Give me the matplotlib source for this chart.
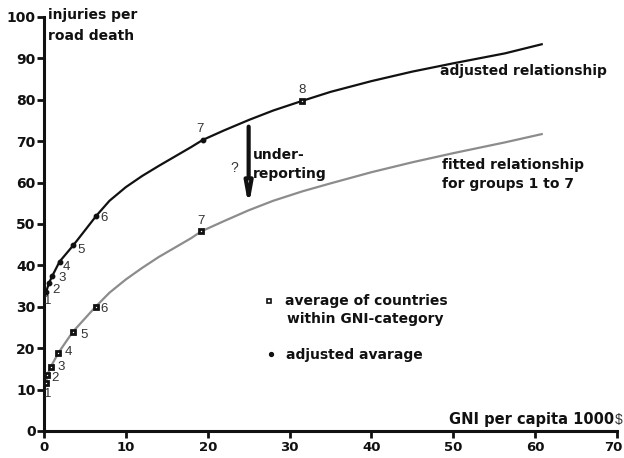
import matplotlib
matplotlib.use("Agg")
import matplotlib.pyplot as plt
import matplotlib.transforms as mtransforms

plt.rcParams['font.family'] = ['DejaVu Sans']

# group averages (square markers) and adjusted averages (dots)
groups = ['1', '2', '3', '4', '5', '6', '7']
avg_x = [0.25, 0.4, 0.8, 1.77, 3.5, 6.3, 19.2]
avg_y = [11.7, 13.5, 15.4, 18.9, 23.9, 30.0, 48.2]
adj_x = [0.25, 0.6, 1.0, 1.9, 3.6, 6.4, 19.4]
adj_y = [33.5, 35.7, 37.4, 40.9, 44.9, 52.0, 70.3]
g8_x = 31.5
g8_y = 79.7

# curves
fit_curve_x = [0.25, 0.4, 0.8, 1.77, 3.5, 6.3, 8, 10, 12, 14, 16, 18, 19.2, 22, 25, 28,
               31.6, 35, 40, 45, 50, 56.3, 60.8]
fit_curve_y = [11.7, 13.5, 15.4, 18.9, 23.9, 30.0, 33.4, 36.6, 39.4, 42.0, 44.3, 46.6, 48.2,
               50.7, 53.3, 55.6, 57.9, 59.8, 62.5, 64.9, 67.1, 69.7, 71.7]
adj_curve_x = [0.25, 0.6, 1.0, 1.9, 3.6, 6.4, 8, 10, 12, 14, 16, 18, 19.4, 22, 25, 28,
               31.5, 35, 40, 45, 50, 56.3, 60.8]
adj_curve_y = [33.5, 35.7, 37.4, 40.9, 44.9, 52.0, 55.6, 58.9, 61.6, 64.0, 66.3, 68.6, 70.3,
               72.6, 75.1, 77.4, 79.7, 81.9, 84.5, 86.8, 88.8, 91.2, 93.4]

x_ticks = [0, 10, 20, 30, 40, 50, 60, 70]
y_ticks = [0, 10, 20, 30, 40, 50, 60, 70, 80, 90, 100]

fig = plt.figure(figsize=(6.24, 4.58), dpi=100)
ax = fig.add_axes([0.0705, 0.059, 0.9183, 0.904])
ax.set_xlim(0, 70)
ax.set_ylim(0, 100)

ax.plot(fit_curve_x, fit_curve_y, color='#8c8c8c', lw=1.6, zorder=2)
ax.plot(adj_curve_x, adj_curve_y, color='#111111', lw=1.6, zorder=2)

sq = dict(ls='none', marker='s', ms=3.4, mfc='white', mec='#111111', mew=2.0, zorder=4)
ax.plot(avg_x, avg_y, **sq)
ax.plot([g8_x], [g8_y], **sq)
ax.plot(adj_x, adj_y, ls='none', marker='o', ms=3.2, color='#111111', zorder=4)

avg_off = [(2, -11), (8, -3), (11, 0), (10, 1), (11, -3), (8, -2), (0, 10)]
adj_off = [(2, -9), (7, -7), (10, -2), (7, -5), (8, -5), (8, -2), (-3, 11)]
lab_kw = dict(textcoords='offset pixels', fontsize=9.5, color='#333333', ha='center',
              va='center', family='Liberation Sans')
for g, x, y, o in zip(groups, avg_x, avg_y, avg_off):
    ax.annotate(g, (x, y), xytext=o, **lab_kw)
for g, x, y, o in zip(groups, adj_x, adj_y, adj_off):
    ax.annotate(g, (x, y), xytext=o, **lab_kw)
ax.annotate('8', (g8_x, g8_y), xytext=(0, 11), **lab_kw)

# under-reporting arrow
ax.annotate('', xy=(25, 54.2), xytext=(25, 73.5),
            arrowprops=dict(arrowstyle='-|>,head_length=1.2,head_width=0.22',
                            lw=3, color='#111111', fc='#dddddd', shrinkA=0, shrinkB=0))

bold = dict(fontsize=10, fontweight='bold', color='#111111', ha='left', va='baseline')
ax.text(25.5, 65.6, 'under-', **bold)
ax.text(25.5, 61.2, 'reporting', **bold)
ax.text(23.3, 62.5, '?', fontsize=10, color='#333333', ha='center', va='baseline',
        family='Liberation Sans')

ax.text(48.4, 86.0, 'adjusted relationship', **bold)
ax.text(48.6, 63.2, 'fitted relationship', **bold)
ax.text(48.6, 58.7, 'for groups 1 to 7', **bold)

# legend-like labels
ax.plot([27.5], [31.5], ls='none', marker='s', ms=2.6, mfc='white', mec='#111111', mew=1.2)
ax.text(29.45, 30.4, 'average of countries', **bold)
ax.text(29.65, 26.0, 'within GNI-category', **bold)
ax.plot([27.7], [18.5], ls='none', marker='o', ms=2.8, color='#111111')
ax.text(29.55, 17.4, 'adjusted avarage', **bold)

# axis titles
ax.text(0.45, 99.4, 'injuries per', clip_on=False, **bold)
ax.text(0.45, 94.4, 'road death', clip_on=False, **bold)
ax.text(69.7, 1.6, 'GNI per capita 1000', fontsize=10.5, fontweight='bold', color='#111111',
        ha='right', va='baseline')
ax.text(69.75, 1.6, '$', fontsize=10, color='#333333', ha='left', va='baseline',
        family='Liberation Sans', clip_on=False)

for s in ['top', 'right']:
    ax.spines[s].set_visible(False)
for s in ['left', 'bottom']:
    ax.spines[s].set_linewidth(2.2)
    ax.spines[s].set_color('#111111')
ax.set_xticks(x_ticks)
ax.set_yticks(y_ticks)
ax.tick_params(direction='out', length=5, width=2, colors='#111111')
ax.tick_params(axis='y', pad=1, labelsize=10)
ax.tick_params(axis='x', pad=2.5, labelsize=9.5)
for lab in ax.get_xticklabels() + ax.get_yticklabels():
    lab.set_fontweight('bold')
# keep the last x tick label inside the figure
last = ax.get_xticklabels()[-1]
last.set_transform(last.get_transform() +
                   mtransforms.ScaledTranslation(-4 / 100, 0, fig.dpi_scale_trans))

fig.savefig('out.png', dpi=100)
